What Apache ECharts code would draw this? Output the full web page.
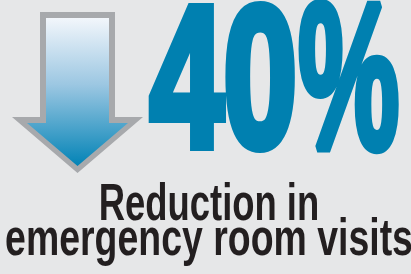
<!DOCTYPE html>
<html>
<head>
<meta charset="utf-8">
<script src="https://cdn.jsdelivr.net/npm/echarts@6/dist/echarts.min.js"></script>
<style>
  html, body { margin: 0; padding: 0; background: #e6e7e8; }
  #main { width: 411px; height: 274px; }
</style>
</head>
<body>
<div id="main"></div>
<script>
// 数据
const statValue = [40]
const statUnit = ['%']
const captionLines = ['Reduction in', 'emergency room visits']

const blue = '#0080b0'
const dark = '#231f20'
const font = '"Liberation Sans", Arial, sans-serif'

const myChart = echarts.init(document.getElementById('main'))

// 向下箭头
const arrow = [
  {
    type: 'polygon',
    shape: { points: [[40, 12], [115, 12], [115, 117], [143, 117], [77.5, 173], [12, 117], [40, 117]] },
    style: { fill: '#a7a9ac' }
  },
  {
    type: 'polygon',
    shape: { points: [[46, 18], [109, 18], [109, 123], [128, 123], [77.5, 166], [27, 123], [46, 123]] },
    style: {
      fill: new echarts.graphic.LinearGradient(0, 0, 0, 1, [
        { offset: 0, color: '#f2f6fb' },
        { offset: 0.45, color: '#9cc7e2' },
        { offset: 1, color: '#0283b6' }
      ])
    }
  }
]

// 大号数字
const bigNumber = [
  {
    type: 'text',
    x: 150, y: 91,
    scaleX: 0.66,
    style: {
      text: String(statValue[0]),
      font: 'bold 200px ' + font,
      fill: blue, stroke: blue, lineWidth: 10, lineJoin: 'miter',
      align: 'left', verticalAlign: 'middle'
    }
  },
  {
    type: 'text',
    x: 298, y: 91,
    scaleX: 0.57,
    scaleY: 1.04,
    style: {
      text: statUnit[0],
      font: 'bold 200px ' + font,
      fill: blue, stroke: blue, lineWidth: 8,
      align: 'left', verticalAlign: 'middle'
    }
  }
]

// 说明文字
const caption = captionLines.map((line, idx) => ({
  type: 'text',
  x: 209, y: 206 + idx * 35,
  scaleX: idx === 0 ? 0.7 : 0.72,
  style: {
    text: line,
    font: 'bold 52px ' + font,
    fill: dark,
    align: 'center', verticalAlign: 'middle'
  }
}))

myChart.setOption({
  backgroundColor: '#e6e7e8',
  animation: false,
  graphic: [].concat(arrow, bigNumber, caption)
})
</script>
</body>
</html>
